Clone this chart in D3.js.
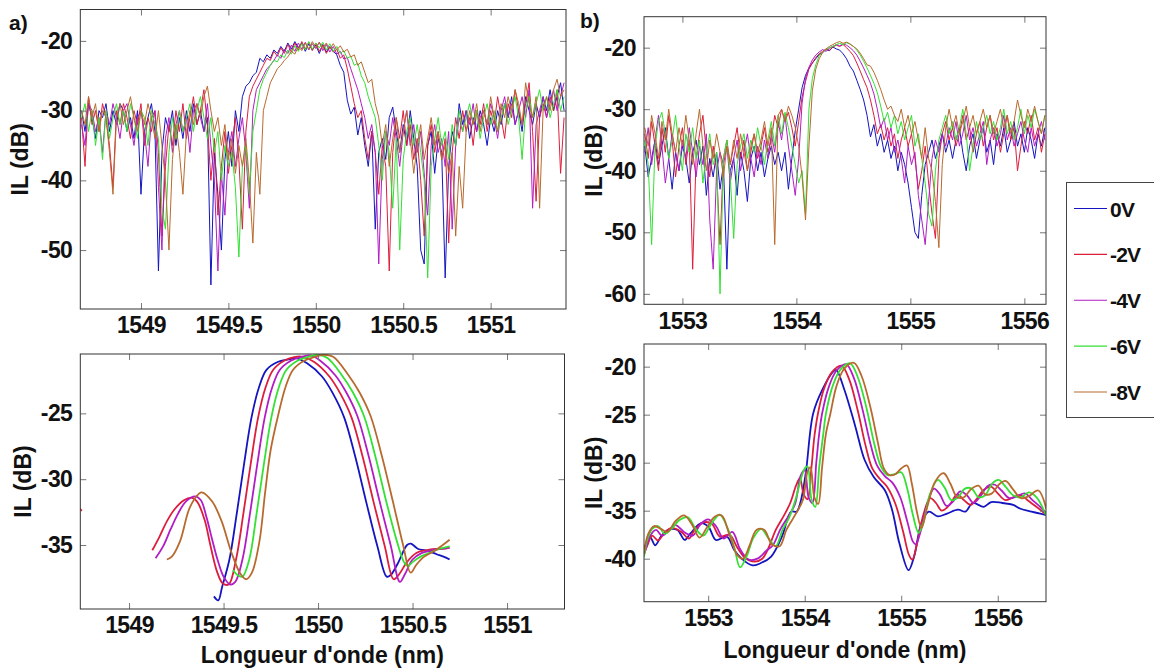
<!DOCTYPE html>
<html>
<head>
<meta charset="utf-8">
<script src="https://cdn.jsdelivr.net/npm/d3@7"></script>
<style>
  html, body { margin: 0; padding: 0; background: #fff; }
  svg { display: block; }
  text { font-family: "Liberation Sans", Arial, Helvetica, sans-serif; font-weight: bold; fill: #111; }
</style>
</head>
<body>
<svg id="fig" width="1154" height="670"></svg>
<script>
// ---------------------------------------------------------------------------
// Bias voltages and their trace colours
const voltages = ["0V", "-2V", "-4V", "-6V", "-8V"];
const colors = ["#1414c0", "#dc1e3c", "#b21cc4", "#34e034", "#b86a2e"];

// ---------------------------------------------------------------------------
// a) raw spectra: IL (dB) sampled every 0.02 nm from 1548.66 nm
const topA_start = 1548.66, topA_step = 0.02;
const topA_0V = [
  -30,-33,-29,-31,-34,-30,-31,-29,-33,-30,
  -32,-29,-30,-33,-31,-34,-30,-42,-33,-31,
  -29,-33,-53,-36,-31,-33,-30,-35,-31,-34,
  -30,-33,-29,-32,-30,-33,-31,-55,-36,-42,
  -50,-37,-33,-38,-30,-33,-28,-26.5,-26,-25,
  -24.5,-22.5,-23,-22,-22.5,-21.3,-21.8,-20.8,-21.5,-20.3,
  -21.2,-20.1,-21,-20.3,-21.5,-20.4,-21.3,-20.6,-21.8,-20.5,
  -21.6,-20.8,-21.5,-22,-23.5,-24.5,-28.5,-30.5,-29.5,-33.5,
  -31,-35,-38,-33,-47,-36,-34,-37,-31,-29.5,
  -33,-36,-32,-35,-30,-34,-38,-50,-52,-35,
  -33,-39,-34,-36,-54,-38,-33,-35,-29,-32,
  -30,-34,-31,-33,-30,-32,-35,-31,-33,-30,
  -32,-29,-31,-28,-32,-30,-33,-28,-30,-32,
  -29,-31,-28,-30,-27,-30,-28,-26,-30
];
const topA_m2V = [
  -31,-38,-28,-32,-30,-33,-29,-31,-35,-41,
  -30,-32,-29,-31,-34,-30,-32,-29,-35,-31,
  -33,-30,-36,-48,-38,-32,-35,-30,-33,-29,
  -34,-31,-28,-32,-30,-27,-32,-40,-34,-45,
  -38,-33,-39,-35,-31,-37,-47,-33,-28,-26.5,
  -25.5,-24.5,-23.5,-22.5,-22.8,-21.5,-22.2,-21,-21.8,-20.5,
  -21.6,-20.3,-21.3,-20.1,-21.2,-20.2,-21.4,-20.3,-21.5,-20.6,
  -21.8,-20.9,-21.6,-21.2,-22.5,-22,-24,-26.5,-29,-31,
  -30,-34,-37,-33,-36,-42,-35,-38,-53,-36,
  -31,-34,-30,-35,-32,-37,-34,-40,-48,-35,
  -32,-36,-33,-37,-34,-49,-36,-31,-34,-30,
  -33,-31,-35,-30,-32,-29,-33,-30,-32,-28,
  -31,-34,-29,-31,-27,-30,-32,-29,-26,-33,
  -43,-31,-29,-31,-28,-30,-27,-39,-31
];
const topA_m4V = [
  -32,-35,-29,-30,-33,-31,-36,-30,-32,-29,
  -31,-34,-30,-29,-32,-35,-31,-30,-33,-38,
  -31,-30,-41,-50,-34,-31,-36,-32,-30,-33,
  -31,-36,-30,-29,-31,-33,-29,-35,-40,-53,
  -39,-45,-36,-33,-38,-34,-31,-36,-44,-30,
  -27,-26,-25,-24,-23.5,-22.8,-22,-22.5,-21.2,-21.8,
  -20.6,-21.5,-20.3,-21.2,-20.2,-21.3,-20.4,-21.1,-20.2,-21.4,
  -20.5,-21.6,-20.8,-21.9,-21.5,-22.6,-22.4,-24,-25.5,-27,
  -29,-31,-34,-32,-36,-52,-37,-33,-35,-31,
  -34,-38,-33,-30,-35,-32,-36,-33,-39,-45,
  -35,-32,-36,-34,-38,-33,-47,-35,-31,-33,
  -30,-32,-29,-33,-31,-30,-32,-29,-31,-34,
  -30,-28,-31,-29,-32,-30,-28,-31,-27,-44,
  -32,-30,-28,-31,-29,-27,-30,-28,-26
];
const topA_m6V = [
  -31,-29,-33,-30,-35,-31,-37,-30,-34,-31,
  -29,-32,-30,-33,-29,-31,-34,-30,-31,-35,
  -30,-32,-34,-44,-47,-36,-31,-34,-30,-33,
  -31,-29,-33,-30,-28,-31,-34,-31,-36,-33,
  -40,-35,-38,-36,-41,-51,-38,-35,-42,-33,
  -30,-27,-25.5,-24.5,-23.5,-22.8,-23,-22,-22.4,-21.3,
  -21.9,-20.7,-21.5,-20.4,-21.3,-20.1,-21.2,-20.3,-21,-20.2,
  -21.3,-20.4,-21.5,-20.8,-21.8,-21.4,-22.5,-22.2,-23.5,-23.2,
  -25,-26,-28,-29.5,-31,-35,-40,-33,-36,-44,
  -34,-50,-37,-33,-31,-35,-32,-36,-40,-54,
  -38,-34,-31,-35,-33,-37,-32,-35,-30,-33,
  -31,-29,-32,-30,-34,-31,-29,-32,-30,-33,
  -31,-29,-32,-30,-28,-31,-37,-30,-28,-31,
  -29,-27,-30,-28,-31,-29,-27,-30,-28
];
const topA_m8V = [
  -30,-32,-28,-31,-29,-33,-30,-31,-36,-42,
  -31,-29,-32,-30,-28,-31,-33,-30,-32,-29,
  -31,-34,-30,-35,-40,-50,-37,-32,-36,-42,
  -33,-30,-32,-29,-31,-28,-26.5,-30,-33,-31,
  -35,-32,-37,-34,-39,-35,-38,-34,-40,-49,
  -36,-42,-30,-28,-26,-25,-24,-23.5,-22.8,-22.3,
  -21.5,-21.9,-20.8,-21.4,-20.3,-21.2,-20.1,-21,-20.2,-21.1,
  -20.3,-21.2,-20.4,-21.3,-20.7,-21.6,-21.2,-22.3,-22,-23.5,
  -23,-24.5,-26,-25.5,-29,-31,-35,-32,-38,-34,
  -31,-36,-33,-30,-34,-39,-35,-32,-37,-34,
  -31,-35,-33,-37,-35,-39,-36,-48,-38,-44,
  -33,-30,-32,-29,-33,-30,-32,-28,-31,-33,
  -29,-31,-28,-30,-27,-29,-32,-26,-29,-31,
  -28,-44,-30,-28,-30,-27,-25.5,-28,-27
];

// ---------------------------------------------------------------------------
// b) raw spectra: IL (dB) sampled every 0.03 nm from 1552.67 nm
const topB_start = 1552.67, topB_step = 0.03;
const topB_0V = [
  -36,-41,-38,-35,-39,-36,-33,-38,-43,-37,
  -40,-36,-38,-42,-37,-35,-39,-36,-44,-38,
  -41,-37,-43,-39,-56,-40,-38,-44,-37,-40,
  -45,-38,-36,-40,-37,-41,-38,-36,-39,-37,
  -40,-37,-43,-38,-33.5,-30,-26.5,-24.5,-23.3,-22.5,
  -21.8,-21.1,-20.8,-20.3,-20.5,-19.9,-20.2,-20.4,-21,-21.8,
  -23,-23.8,-25.3,-26.8,-28.5,-31,-34.5,-32.5,-36,-34,
  -37,-35,-38,-36,-40,-37,-39,-42,-46,-50,
  -51,-44,-39,-37,-35,-38,-36,-34,-37,-35,
  -38,-35,-33,-37,-40,-36,-34,-38,-35,-33,
  -37,-35,-39,-34,-36,-33,-37,-35,-32,-36,
  -34,-37,-33,-35,-38,-34,-36,-33
];
const topB_m2V = [
  -34,-38,-32,-36,-40,-33,-37,-31,-35,-41,
  -36,-33,-39,-35,-56,-38,-34,-31,-37,-41,
  -36,-40,-52,-38,-35,-39,-36,-33,-38,-35,
  -40,-37,-34,-38,-36,-33,-37,-35,-31,-33,
  -30,-32,-30.5,-33,-36,-32,-28,-25.5,-23.5,-22.5,
  -21.6,-21,-20.6,-20.2,-20.4,-19.9,-19.6,-19.8,-19.5,-20,
  -20.6,-21.3,-22.5,-23.8,-25.2,-26.5,-28.5,-31,-34,-32.5,
  -35,-33,-36,-34,-38,-35,-33,-36,-34,-38,
  -43,-40,-36,-42,-47,-51,-38,-34,-32,-35,
  -33,-36,-34,-31,-35,-33,-37,-34,-32,-36,
  -33,-31,-35,-33,-37,-34,-31,-35,-33,-40,
  -36,-32,-34,-31,-35,-33,-37,-34
];
const topB_m4V = [
  -37,-33,-39,-35,-31,-36,-42,-38,-34,-37,
  -40,-35,-38,-33,-37,-41,-36,-39,-34,-48,
  -56,-40,-37,-39,-36,-42,-38,-35,-40,-37,
  -34,-38,-41,-36,-39,-35,-38,-34,-37,-32,
  -35,-31,-36,-40,-44,-38,-29,-25,-23.2,-22,
  -21.2,-20.7,-20.3,-20.6,-20.1,-19.8,-19.5,-19.7,-19.4,-19.6,
  -20,-20.5,-21.2,-22.2,-23.3,-24.5,-25.8,-27.5,-30,-33,
  -31.5,-35,-33,-37,-35,-38,-42,-36,-39,-37,
  -44,-48,-52,-45,-38,-35,-37,-34,-36,-33,
  -35,-32,-36,-34,-31,-35,-33,-36,-34,-32,
  -39,-35,-33,-36,-34,-31,-35,-33,-36,-34,
  -32,-35,-37,-33,-36,-34,-32,-35
];
const topB_m6V = [
  -35,-39,-52,-36,-32,-30.5,-34,-38,-35,-31,
  -36,-40,-34,-37,-33,-38,-35,-42,-37,-34,
  -39,-37,-60,-38,-35,-41,-51,-39,-36,-34,
  -38,-35,-37,-33,-36,-39,-35,-32,-36,-31,
  -34,-30.5,-33,-36,-39,-42,-40,-47,-30,-25,
  -22.8,-21.3,-20.7,-20.3,-20,-19.8,-19.5,-19.3,-19.5,-19.2,
  -19.4,-19.8,-20.4,-21.2,-22.2,-23.3,-24.5,-25.8,-27.3,-29.5,
  -32,-30.5,-33,-31,-34,-32,-35,-33,-31,-36,
  -34,-38,-42,-47,-49,-40,-35,-33,-31,-34,
  -32,-35,-33,-30,-34,-40,-36,-32,-35,-33,
  -31,-34,-32,-35,-33,-30,-34,-32,-35,-33,
  -30,-34,-31,-33,-30,-32,-34,-31
];
const topB_m8V = [
  -33,-36,-31,-34,-38,-32,-35,-30,-34,-37,
  -33,-36,-31,-35,-39,-34,-30,-36,-40,-35,
  -38,-34,-37,-41,-36,-39,-35,-38,-34,-37,
  -40,-36,-34,-37,-35,-32,-36,-33,-52,-31,
  -30,-32,-29.5,-31,-33,-36,-41,-48,-36,-27,
  -23.5,-21.8,-20.8,-20.2,-19.8,-19.5,-19.2,-19,-19.3,-19.1,
  -19.4,-19.8,-20.2,-20.9,-21.8,-22.8,-23,-24,-25.3,-26.8,
  -28.5,-30,-29.5,-31,-32,-30,-33,-31,-34,-32,
  -35,-38,-33,-38,-40,-45,-52.5,-39,-33,-30,
  -33,-31,-34,-32,-29.5,-33,-31,-34,-32,-30,
  -33,-31,-34,-32,-30,-33,-31,-34,-32,-28.5,
  -31,-33,-30,-32,-29.5,-32,-34,-31
];

// ---------------------------------------------------------------------------
// a) smoothed responses: [wavelength (nm), IL (dB)]
const botA_0V = [
  [1549.449,-38.9],[1549.472,-39.2],[1549.492,-38.2],[1549.531,-36.1],[1549.570,-32.6],
  [1549.609,-28.8],[1549.648,-25.3],[1549.688,-23.0],[1549.727,-21.7],[1549.786,-21.1],
  [1549.844,-20.9],[1549.883,-20.8],[1549.942,-21.2],[1550.021,-22.2],[1550.079,-23.5],
  [1550.138,-25.3],[1550.197,-28.3],[1550.256,-31.8],[1550.314,-35.1],[1550.363,-37.4],
  [1550.383,-37.3],[1550.422,-36.4],[1550.471,-35.0],[1550.491,-34.9],[1550.530,-35.3],
  [1550.569,-35.4],[1550.628,-35.7],[1550.667,-35.9],[1550.696,-36.1]
];
const botA_m2V = [
  [1549.123,-35.4],[1549.16,-34.4],[1549.20,-33.2],[1549.24,-32.3],[1549.29,-31.6],
  [1549.33,-31.4],[1549.36,-31.7],[1549.40,-33.1],[1549.43,-35.0],[1549.465,-37.0],
  [1549.495,-37.9],[1549.527,-38.0],[1549.566,-36.1],[1549.605,-32.6],[1549.644,-28.8],
  [1549.683,-25.3],[1549.723,-23.0],[1549.762,-21.7],[1549.82,-21.0],[1549.88,-20.7],
  [1549.92,-20.7],[1549.98,-21.1],[1550.06,-22.2],[1550.118,-23.5],[1550.177,-25.3],
  [1550.236,-28.3],[1550.295,-31.8],[1550.353,-35.1],[1550.40,-37.6],[1550.43,-37.2],
  [1550.47,-36.3],[1550.52,-35.6],[1550.57,-35.4],[1550.62,-35.3],[1550.66,-35.3],
  [1550.696,-35.2]
];
// short piece of the -2V trace entering at the left border
const botA_m2V_edge = [[1548.70,-31.6],[1548.75,-32.4]];
const botA_m4V = [
  [1549.14,-36.0],[1549.18,-35.1],[1549.22,-33.8],[1549.26,-32.6],[1549.30,-31.7],
  [1549.35,-31.3],[1549.38,-31.6],[1549.41,-32.9],[1549.44,-34.6],[1549.47,-36.2],
  [1549.50,-37.4],[1549.535,-38.0],[1549.562,-37.8],[1549.60,-36.1],[1549.64,-32.6],
  [1549.679,-28.8],[1549.718,-25.3],[1549.758,-23.0],[1549.797,-21.7],[1549.856,-21.0],
  [1549.914,-20.7],[1549.96,-20.6],[1550.012,-21.0],[1550.091,-22.1],[1550.149,-23.4],
  [1550.208,-25.2],[1550.267,-28.2],[1550.326,-31.7],[1550.384,-35.0],[1550.433,-37.8],
  [1550.46,-37.2],[1550.50,-36.1],[1550.55,-35.6],[1550.60,-35.4],[1550.65,-35.3],
  [1550.696,-35.2]
];
const botA_m6V = [
  [1549.55,-36.9],[1549.575,-37.3],[1549.60,-37.4],[1549.636,-36.1],[1549.675,-32.6],
  [1549.714,-28.8],[1549.753,-25.3],[1549.793,-23.0],[1549.832,-21.7],[1549.891,-21.0],
  [1549.949,-20.7],[1550.00,-20.55],[1550.05,-20.8],[1550.126,-22.1],[1550.184,-23.4],
  [1550.243,-25.2],[1550.302,-28.2],[1550.361,-31.7],[1550.419,-34.8],[1550.455,-36.3],
  [1550.475,-36.6],[1550.50,-36.3],[1550.54,-35.9],[1550.59,-35.6],[1550.64,-35.3],
  [1550.696,-35.1]
];
const botA_m8V = [
  [1549.20,-36.1],[1549.225,-35.9],[1549.27,-34.7],[1549.32,-32.2],[1549.37,-31.1],
  [1549.385,-31.0],[1549.44,-31.7],[1549.49,-33.2],[1549.54,-35.5],[1549.59,-37.2],
  [1549.62,-37.6],[1549.65,-37.1],[1549.69,-34.7],[1549.72,-31.0],[1549.749,-27.8],
  [1549.788,-25.2],[1549.828,-23.0],[1549.867,-21.7],[1549.926,-21.0],[1549.985,-20.7],
  [1550.03,-20.55],[1550.08,-20.7],[1550.161,-22.1],[1550.219,-23.4],[1550.278,-25.2],
  [1550.337,-28.2],[1550.396,-31.7],[1550.45,-35.0],[1550.49,-37.1],[1550.52,-36.5],
  [1550.56,-35.9],[1550.61,-35.5],[1550.66,-35.0],[1550.696,-34.6]
];

// ---------------------------------------------------------------------------
// b) smoothed responses: [wavelength (nm), IL (dB)]
const botB_0V = [
  [1552.335,-39.1],[1552.395,-37.7],[1552.452,-38.6],[1552.51,-37.7],[1552.586,-37.0],
  [1552.68,-37.0],[1552.757,-38.05],[1552.814,-37.4],[1552.928,-36.3],[1553.004,-36.7],
  [1553.08,-38.05],[1553.194,-37.7],[1553.27,-39.1],[1553.346,-40.0],[1553.46,-40.7],
  [1553.536,-40.5],[1553.65,-39.8],[1553.764,-37.7],[1553.859,-35.1],[1553.916,-35.1],
  [1553.954,-34.2],[1554.011,-31.1],[1554.087,-24.9],[1554.183,-22.4],[1554.297,-20.5],
  [1554.327,-20.35],[1554.411,-22.4],[1554.525,-26.25],[1554.62,-29.7],[1554.715,-31.5],
  [1554.829,-32.85],[1554.905,-34.9],[1554.981,-38.4],[1555.076,-41.2],[1555.133,-39.8],
  [1555.209,-36.3],[1555.285,-35.1],[1555.38,-35.6],[1555.475,-35.3],[1555.589,-34.9],
  [1555.665,-35.1],[1555.741,-34.2],[1555.856,-34.6],[1555.932,-34.1],[1556.046,-34.2],
  [1556.16,-34.4],[1556.236,-34.8],[1556.35,-35.1],[1556.502,-35.45]
];
const botB_m2V = [
  [1552.335,-39.4],[1552.37,-38.6],[1552.42,-37.6],[1552.48,-38.1],[1552.54,-37.4],
  [1552.62,-36.8],[1552.72,-37.2],[1552.80,-37.9],[1552.86,-37.0],[1552.96,-36.2],
  [1553.04,-36.4],[1553.12,-37.7],[1553.22,-37.5],[1553.30,-38.8],[1553.38,-39.9],
  [1553.48,-40.3],[1553.56,-40.0],[1553.62,-39.0],[1553.70,-37.0],[1553.78,-35.6],
  [1553.85,-34.2],[1553.91,-32.4],[1553.95,-31.6],[1553.99,-33.3],[1554.03,-33.8],
  [1554.07,-30.5],[1554.10,-27.3],[1554.137,-24.9],[1554.20,-22.3],[1554.28,-20.6],
  [1554.38,-19.9],[1554.46,-21.3],[1554.55,-24.6],[1554.63,-28.2],[1554.70,-30.6],
  [1554.78,-31.7],[1554.86,-32.6],[1554.94,-34.3],[1555.02,-37.2],[1555.08,-39.6],
  [1555.115,-40.1],[1555.16,-38.6],[1555.23,-35.4],[1555.30,-33.7],[1555.36,-34.2],
  [1555.42,-35.0],[1555.50,-34.4],[1555.58,-33.3],[1555.65,-33.9],[1555.72,-34.4],
  [1555.78,-33.8],[1555.86,-32.8],[1555.93,-32.5],[1556.00,-33.2],[1556.08,-33.9],
  [1556.16,-33.6],[1556.24,-33.4],[1556.32,-34.0],[1556.40,-34.6],[1556.502,-35.4]
];
const botB_m4V = [
  [1552.335,-39.6],[1552.36,-38.8],[1552.40,-37.6],[1552.46,-37.0],[1552.52,-37.6],
  [1552.58,-37.2],[1552.66,-36.5],[1552.76,-37.3],[1552.84,-37.6],[1552.92,-36.4],
  [1553.00,-35.9],[1553.08,-36.6],[1553.16,-37.9],[1553.25,-37.2],[1553.33,-39.0],
  [1553.42,-40.1],[1553.51,-40.0],[1553.60,-39.2],[1553.67,-38.6],[1553.75,-36.9],
  [1553.83,-35.6],[1553.90,-34.3],[1553.96,-31.3],[1554.00,-30.8],[1554.04,-33.6],
  [1554.08,-34.2],[1554.12,-30.0],[1554.15,-27.0],[1554.18,-24.9],[1554.25,-22.1],
  [1554.33,-20.4],[1554.43,-19.75],[1554.51,-21.2],[1554.60,-24.5],[1554.68,-28.0],
  [1554.75,-30.3],[1554.83,-31.4],[1554.91,-32.1],[1554.99,-33.6],[1555.07,-36.4],
  [1555.12,-38.2],[1555.15,-38.5],[1555.20,-37.2],[1555.27,-34.3],[1555.34,-32.7],
  [1555.40,-33.3],[1555.47,-34.5],[1555.54,-34.0],[1555.61,-33.0],[1555.68,-33.4],
  [1555.75,-34.2],[1555.82,-33.5],[1555.90,-32.4],[1555.97,-32.3],[1556.04,-32.9],
  [1556.12,-33.7],[1556.20,-33.5],[1556.28,-33.2],[1556.36,-33.9],[1556.44,-34.6],
  [1556.502,-35.3]
];
const botB_m6V = [
  [1552.335,-39.8],[1552.37,-38.0],[1552.42,-36.9],[1552.48,-36.6],[1552.55,-37.4],
  [1552.62,-36.9],[1552.70,-36.0],[1552.79,-35.7],[1552.87,-36.9],[1552.95,-37.6],
  [1553.03,-36.4],[1553.12,-35.4],[1553.20,-36.8],[1553.27,-38.8],[1553.33,-40.9],
  [1553.40,-39.7],[1553.47,-37.8],[1553.55,-36.9],[1553.62,-37.8],[1553.70,-38.7],
  [1553.77,-37.0],[1553.84,-35.7],[1553.90,-34.0],[1554.00,-30.6],[1554.03,-30.4],
  [1554.07,-33.8],[1554.11,-34.6],[1554.15,-30.5],[1554.19,-27.2],[1554.22,-24.9],
  [1554.29,-22.0],[1554.37,-20.3],[1554.47,-19.65],[1554.55,-21.1],[1554.64,-24.3],
  [1554.72,-28.0],[1554.79,-30.4],[1554.86,-31.3],[1554.93,-31.2],[1555.00,-31.0],
  [1555.06,-32.6],[1555.12,-35.4],[1555.18,-37.3],[1555.23,-36.2],[1555.30,-33.2],
  [1555.38,-31.8],[1555.45,-32.6],[1555.52,-33.9],[1555.59,-33.6],[1555.66,-32.7],
  [1555.73,-32.7],[1555.80,-33.6],[1555.87,-33.4],[1555.94,-32.2],[1556.01,-31.8],
  [1556.08,-32.5],[1556.16,-33.4],[1556.24,-33.6],[1556.32,-33.1],[1556.40,-33.6],
  [1556.502,-35.5]
];
const botB_m8V = [
  [1552.335,-39.5],[1552.38,-37.4],[1552.44,-36.6],[1552.51,-36.9],[1552.58,-37.2],
  [1552.66,-36.1],[1552.75,-35.5],[1552.83,-36.4],[1552.91,-37.8],[1552.99,-36.7],
  [1553.07,-35.6],[1553.14,-35.5],[1553.22,-37.5],[1553.30,-39.6],[1553.36,-40.0],
  [1553.43,-38.6],[1553.50,-37.0],[1553.58,-37.0],[1553.66,-38.5],[1553.74,-38.7],
  [1553.81,-37.0],[1553.88,-35.8],[1553.98,-33.9],[1554.03,-30.9],[1554.06,-30.5],
  [1554.10,-33.6],[1554.14,-34.3],[1554.18,-30.5],[1554.22,-27.0],[1554.266,-24.9],
  [1554.33,-22.0],[1554.41,-20.2],[1554.51,-19.6],[1554.59,-21.0],[1554.68,-24.2],
  [1554.76,-28.0],[1554.82,-30.6],[1554.88,-31.3],[1554.94,-31.2],[1555.00,-30.6],
  [1555.06,-30.3],[1555.11,-32.2],[1555.16,-35.0],[1555.21,-36.8],[1555.27,-34.6],
  [1555.35,-32.0],[1555.44,-31.1],[1555.51,-32.2],[1555.58,-33.6],[1555.65,-33.6],
  [1555.72,-32.8],[1555.80,-32.4],[1555.87,-33.3],[1555.94,-33.2],[1556.01,-32.3],
  [1556.08,-31.9],[1556.16,-32.8],[1556.24,-33.7],[1556.32,-33.5],[1556.42,-32.9],
  [1556.502,-34.8]
];

// ---------------------------------------------------------------------------
// Axis ranges and tick values
const xDomainA_top = [1548.653, 1551.431], yDomainA_top = [-58.45, -15.5];
const xDomainB_top = [1552.663, 1556.19],  yDomainB_top = [-61.7, -14.97];
const xDomainA_bot = [1548.742, 1551.304], yDomainA_bot = [-39.86, -20.49];
const xDomainB_bot = [1552.335, 1556.50],  yDomainB_bot = [-44.48, -17.64];
const xTicksA = [1549, 1549.5, 1550, 1550.5, 1551];
const xTicksB = [1553, 1554, 1555, 1556];
const yTicksA_top = [-50, -40, -30, -20];
const yTicksB_top = [-60, -50, -40, -30, -20];
const yTicksA_bot = [-35, -30, -25];
const yTicksB_bot = [-40, -35, -30, -25, -20];

// ---------------------------------------------------------------------------
const svg = d3.select("#fig");
const gridSeries = (start, step, vals) => vals.map((v, i) => [start + step * i, v]);

const FONT_TICK = 23, FONT_TITLE = 23;

function drawPanel(cfg) {
  const { name, x0, x1, y0, y1 } = cfg;
  const x = d3.scaleLinear().domain(cfg.xDomain).range([x0, x1]);
  const y = d3.scaleLinear().domain(cfg.yDomain).range([y1, y0]);
  const g = svg.append("g");

  g.append("clipPath").attr("id", "clip-" + name)
    .append("rect").attr("x", x0).attr("y", y0).attr("width", x1 - x0).attr("height", y1 - y0);

  const line = d3.line().x(d => x(d[0])).y(d => y(d[1])).curve(cfg.curve);
  const plot = g.append("g").attr("clip-path", `url(#clip-${name})`);
  cfg.series.forEach(s => {
    plot.append("path").datum(s.data)
      .attr("fill", "none").attr("stroke", s.color)
      .attr("stroke-width", cfg.lineWidth).attr("stroke-linejoin", "round")
      .attr("d", line);
  });

  const fmt = d => String(d);
  // bottom axis with labels, ticks pointing inward
  const ax = g.append("g").attr("transform", `translate(0,${y1})`)
    .call(d3.axisBottom(x).tickValues(cfg.xTicks).tickFormat(fmt)
      .tickSizeInner(-6).tickSizeOuter(0).tickPadding(8));
  // top axis ticks only
  const axT = g.append("g").attr("transform", `translate(0,${y0})`)
    .call(d3.axisTop(x).tickValues(cfg.xTicks).tickFormat("")
      .tickSizeInner(-6).tickSizeOuter(0));
  // left axis with labels
  const ayL = g.append("g").attr("transform", `translate(${x0},0)`)
    .call(d3.axisLeft(y).tickValues(cfg.yTicks).tickFormat(fmt)
      .tickSizeInner(-6).tickSizeOuter(0).tickPadding(8));
  // right axis ticks only
  const ayR = g.append("g").attr("transform", `translate(${x1},0)`)
    .call(d3.axisRight(y).tickValues(cfg.yTicks).tickFormat("")
      .tickSizeInner(-6).tickSizeOuter(0));

  [ax, axT, ayL, ayR].forEach(a => {
    a.select(".domain").remove();
    a.selectAll(".tick line").attr("stroke", "#777").attr("stroke-width", 1);
    a.selectAll(".tick text")
      .attr("fill", "#111")
      .style("font-family", '"Liberation Sans", Arial, sans-serif')
      .style("font-weight", "bold")
      .style("font-size", FONT_TICK + "px")
      .style("letter-spacing", "-0.6px");
  });

  g.append("rect").attr("x", x0).attr("y", y0)
    .attr("width", x1 - x0).attr("height", y1 - y0)
    .attr("fill", "none").attr("stroke", "#333").attr("stroke-width", 1);

  // y-axis title
  g.append("text")
    .attr("transform", `translate(${cfg.yTitleX},${(y0 + y1) / 2}) rotate(-90)`)
    .attr("text-anchor", "middle")
    .style("font-size", FONT_TITLE + "px")
    .text("IL (dB)");

  if (cfg.xTitle) {
    g.append("text")
      .attr("x", (x0 + x1) / 2).attr("y", cfg.xTitleY)
      .attr("text-anchor", "middle")
      .style("font-size", FONT_TITLE + "px")
      .text(cfg.xTitle);
  }
}

const topA = [topA_0V, topA_m2V, topA_m4V, topA_m6V, topA_m8V];
const topB = [topB_0V, topB_m2V, topB_m4V, topB_m6V, topB_m8V];
const botA = [botA_0V, botA_m2V, botA_m4V, botA_m6V, botA_m8V];
const botB = [botB_0V, botB_m2V, botB_m4V, botB_m6V, botB_m8V];

drawPanel({
  name: "a-top", x0: 80.3, x1: 566, y0: 9.5, y1: 309,
  xDomain: xDomainA_top, yDomain: yDomainA_top, xTicks: xTicksA, yTicks: yTicksA_top,
  curve: d3.curveLinear, lineWidth: 1,
  series: topA.map((v, i) => ({ data: gridSeries(topA_start, topA_step, v), color: colors[i] })),
  yTitleX: 28
});

drawPanel({
  name: "b-top", x0: 644, x1: 1046, y0: 16.7, y1: 304.3,
  xDomain: xDomainB_top, yDomain: yDomainB_top, xTicks: xTicksB, yTicks: yTicksB_top,
  curve: d3.curveLinear, lineWidth: 1,
  series: topB.map((v, i) => ({ data: gridSeries(topB_start, topB_step, v), color: colors[i] })),
  yTitleX: 602
});

drawPanel({
  name: "a-bot", x0: 80.3, x1: 564.5, y0: 354, y1: 609,
  xDomain: xDomainA_bot, yDomain: yDomainA_bot, xTicks: xTicksA, yTicks: yTicksA_bot,
  curve: d3.curveCatmullRom.alpha(0.5), lineWidth: 1.8,
  series: [{ data: botA_m2V_edge, color: colors[1] }]
    .concat(botA.map((d, i) => ({ data: d, color: colors[i] }))),
  yTitleX: 31, xTitle: "Longueur d'onde (nm)", xTitleY: 663
});

drawPanel({
  name: "b-bot", x0: 644, x1: 1046, y0: 344, y1: 601.7,
  xDomain: xDomainB_bot, yDomain: yDomainB_bot, xTicks: xTicksB, yTicks: yTicksB_bot,
  curve: d3.curveCatmullRom.alpha(0.5), lineWidth: 1.8,
  series: botB.map((d, i) => ({ data: d, color: colors[i] })),
  yTitleX: 602, xTitle: "Longueur d'onde (nm)", xTitleY: 658
});

// panel letters
svg.append("text").attr("x", 9).attr("y", 30).style("font-size", "21px").text("a)");
svg.append("text").attr("x", 580).attr("y", 28).style("font-size", "21px").text("b)");

// legend
const legend = svg.append("g");
legend.append("rect").attr("x", 1066.5).attr("y", 182.5)
  .attr("width", 100).attr("height", 235)
  .attr("fill", "#fff").attr("stroke", "#444").attr("stroke-width", 1);
const legendY = d3.scalePoint().domain(voltages).range([208.5, 392]);
voltages.forEach((v, i) => {
  const yy = legendY(v);
  legend.append("line").attr("x1", 1074).attr("x2", 1107).attr("y1", yy).attr("y2", yy)
    .attr("stroke", colors[i]).attr("stroke-width", 1.2);
  legend.append("text").attr("x", 1110).attr("y", yy + 8)
    .style("font-size", "21px").style("letter-spacing", "-0.8px").text(v);
});
</script>
</body>
</html>
